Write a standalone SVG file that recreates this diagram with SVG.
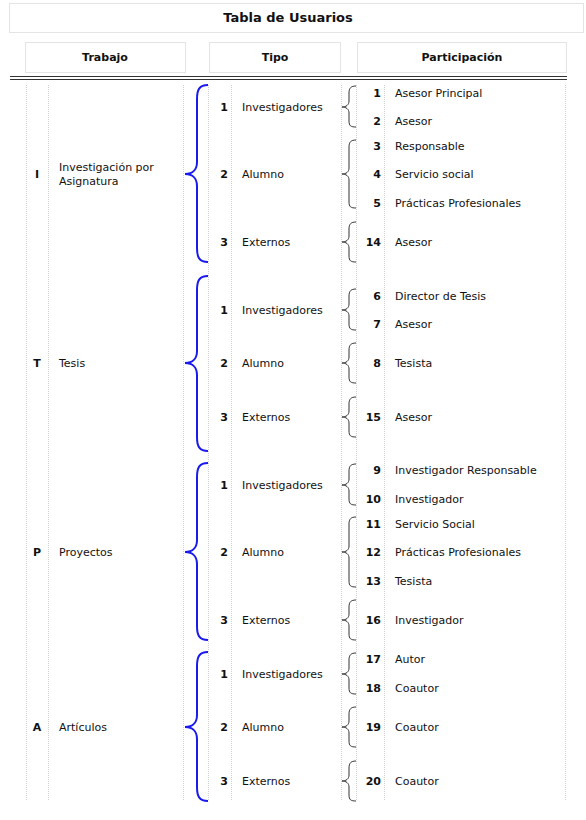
<svg xmlns="http://www.w3.org/2000/svg" width="586" height="820" viewBox="0 0 586 820">
<style>
text{font-family:"DejaVu Sans",Verdana,sans-serif;font-size:11px;fill:#111}
.b{font-weight:bold}
.r{text-anchor:end}
.m{text-anchor:middle}
.box{fill:none;stroke:#c8c8c8;stroke-width:1;stroke-dasharray:1 1}
.vl{stroke:#cfcfcf;stroke-width:1;stroke-dasharray:1 1}
.big{fill:none;stroke:#1a1aee;stroke-width:2}
.sm{fill:none;stroke:#333;stroke-width:1}
</style>
<rect width="586" height="820" fill="#fff"/>
<g id="title">
<rect class="box" x="9.5" y="3.5" width="574" height="29"/>
<text class="b m" x="288" y="22" style="font-size:13px">Tabla de Usuarios</text>
</g>
<g id="headers">
<rect class="box" x="25.5" y="42.5" width="160" height="30"/>
<text class="b m" x="105" y="61">Trabajo</text>
<rect class="box" x="209.5" y="42.5" width="131" height="30"/>
<text class="b m" x="275" y="61">Tipo</text>
<rect class="box" x="357.5" y="42.5" width="209" height="30"/>
<text class="b m" x="462" y="61">Participación</text>
<line x1="10" y1="76.5" x2="567" y2="76.5" stroke="#333"/>
<line x1="10" y1="79.5" x2="567" y2="79.5" stroke="#333"/>
</g>
<g id="grid">
<line class="vl" x1="26.5" y1="85" x2="26.5" y2="801"/>
<line class="vl" x1="48.5" y1="85" x2="48.5" y2="801"/>
<line class="vl" x1="183.5" y1="85" x2="183.5" y2="801"/>
<line class="vl" x1="208.5" y1="85" x2="208.5" y2="801"/>
<line class="vl" x1="231.5" y1="85" x2="231.5" y2="801"/>
<line class="vl" x1="341.5" y1="85" x2="341.5" y2="801"/>
<line class="vl" x1="356.5" y1="85" x2="356.5" y2="801"/>
<line class="vl" x1="384.5" y1="85" x2="384.5" y2="801"/>
<line class="vl" x1="565.5" y1="85" x2="565.5" y2="801"/>
</g>
<g id="connectors">
<path class="big" d="M208,85 C199,85 197,90 197,99 L197,162 C197,170 192,174 185,174 C192,174 197,178 197,186 L197,248 C197,257 199,262 208,262"/>
<path class="big" d="M208,276 C199,276 197,281 197,290 L197,351 C197,359 192,363 185,363 C192,363 197,367 197,375 L197,437 C197,446 199,451 208,451"/>
<path class="big" d="M208,463 C199,463 197,468 197,477 L197,540 C197,548 192,552 185,552 C192,552 197,556 197,564 L197,626 C197,635 199,640 208,640"/>
<path class="big" d="M208,652 C199,652 197,657 197,666 L197,715 C197,723 192,727 185,727 C192,727 197,731 197,739 L197,787 C197,796 199,801 208,801"/>
<path class="sm" d="M356,86 C351,86 349,88 349,93 L349,101 C349,105 346,107 342,107 C346,107 349,109 349,113 L349,121 C349,126 351,127 356,127"/>
<path class="sm" d="M356,140 C351,140 349,142 349,147 L349,168 C349,172 346,174 342,174 C346,174 349,176 349,180 L349,202 C349,207 351,208 356,208"/>
<path class="sm" d="M356,222 C351,222 349,224 349,229 L349,236 C349,240 346,242 342,242 C346,242 349,244 349,248 L349,256 C349,261 351,262 356,262"/>
<path class="sm" d="M356,289 C351,289 349,291 349,296 L349,304 C349,308 346,310 342,310 C346,310 349,312 349,316 L349,324 C349,329 351,330 356,330"/>
<path class="sm" d="M356,343 C351,343 349,345 349,350 L349,357 C349,361 346,363 342,363 C346,363 349,365 349,369 L349,377 C349,382 351,383 356,383"/>
<path class="sm" d="M356,397 C351,397 349,399 349,404 L349,411 C349,415 346,417 342,417 C346,417 349,419 349,423 L349,431 C349,436 351,437 356,437"/>
<path class="sm" d="M356,464 C351,464 349,466 349,471 L349,479 C349,483 346,485 342,485 C346,485 349,487 349,491 L349,499 C349,504 351,505 356,505"/>
<path class="sm" d="M356,517 C351,517 349,519 349,524 L349,546 C349,550 346,552 342,552 C346,552 349,554 349,558 L349,581 C349,586 351,587 356,587"/>
<path class="sm" d="M356,600 C351,600 349,602 349,607 L349,614 C349,618 346,620 342,620 C346,620 349,622 349,626 L349,634 C349,639 351,640 356,640"/>
<path class="sm" d="M356,653 C351,653 349,655 349,660 L349,668 C349,672 346,674 342,674 C346,674 349,676 349,680 L349,688 C349,693 351,694 356,694"/>
<path class="sm" d="M356,707 C351,707 349,709 349,714 L349,721 C349,725 346,727 342,727 C346,727 349,729 349,733 L349,741 C349,746 351,747 356,747"/>
<path class="sm" d="M356,761 C351,761 349,763 349,768 L349,775 C349,779 346,781 342,781 C346,781 349,783 349,787 L349,795 C349,800 351,801 356,801"/>
</g>
<g id="trabajo-I">
<text class="b m" x="37" y="178">I</text>
<text x="59" y="171">Investigación por</text>
<text x="59" y="185">Asignatura</text>
</g>
<g id="trabajo-T">
<text class="b m" x="37" y="367">T</text>
<text x="59" y="367">Tesis</text>
</g>
<g id="trabajo-P">
<text class="b m" x="37" y="556">P</text>
<text x="59" y="556">Proyectos</text>
</g>
<g id="trabajo-A">
<text class="b m" x="37" y="731">A</text>
<text x="59" y="731">Artículos</text>
</g>
<g id="tipo">
<text class="b r" x="228" y="111">1</text><text x="242" y="111">Investigadores</text>
<text class="b r" x="228" y="178">2</text><text x="242" y="178">Alumno</text>
<text class="b r" x="228" y="246">3</text><text x="242" y="246">Externos</text>
<text class="b r" x="228" y="314">1</text><text x="242" y="314">Investigadores</text>
<text class="b r" x="228" y="367">2</text><text x="242" y="367">Alumno</text>
<text class="b r" x="228" y="421">3</text><text x="242" y="421">Externos</text>
<text class="b r" x="228" y="489">1</text><text x="242" y="489">Investigadores</text>
<text class="b r" x="228" y="556">2</text><text x="242" y="556">Alumno</text>
<text class="b r" x="228" y="624">3</text><text x="242" y="624">Externos</text>
<text class="b r" x="228" y="678">1</text><text x="242" y="678">Investigadores</text>
<text class="b r" x="228" y="731">2</text><text x="242" y="731">Alumno</text>
<text class="b r" x="228" y="785">3</text><text x="242" y="785">Externos</text>
</g>
<g id="participacion">
<text class="b r" x="381" y="97">1</text><text x="395" y="97">Asesor Principal</text>
<text class="b r" x="381" y="125">2</text><text x="395" y="125">Asesor</text>
<text class="b r" x="381" y="150">3</text><text x="395" y="150">Responsable</text>
<text class="b r" x="381" y="178">4</text><text x="395" y="178">Servicio social</text>
<text class="b r" x="381" y="207">5</text><text x="395" y="207">Prácticas Profesionales</text>
<text class="b r" x="381" y="246">14</text><text x="395" y="246">Asesor</text>
<text class="b r" x="381" y="300">6</text><text x="395" y="300">Director de Tesis</text>
<text class="b r" x="381" y="328">7</text><text x="395" y="328">Asesor</text>
<text class="b r" x="381" y="367">8</text><text x="395" y="367">Tesista</text>
<text class="b r" x="381" y="421">15</text><text x="395" y="421">Asesor</text>
<text class="b r" x="381" y="474">9</text><text x="395" y="474">Investigador Responsable</text>
<text class="b r" x="381" y="503">10</text><text x="395" y="503">Investigador</text>
<text class="b r" x="381" y="528">11</text><text x="395" y="528">Servicio Social</text>
<text class="b r" x="381" y="556">12</text><text x="395" y="556">Prácticas Profesionales</text>
<text class="b r" x="381" y="585">13</text><text x="395" y="585">Tesista</text>
<text class="b r" x="381" y="624">16</text><text x="395" y="624">Investigador</text>
<text class="b r" x="381" y="663">17</text><text x="395" y="663">Autor</text>
<text class="b r" x="381" y="692">18</text><text x="395" y="692">Coautor</text>
<text class="b r" x="381" y="731">19</text><text x="395" y="731">Coautor</text>
<text class="b r" x="381" y="785">20</text><text x="395" y="785">Coautor</text>
</g>
</svg>
